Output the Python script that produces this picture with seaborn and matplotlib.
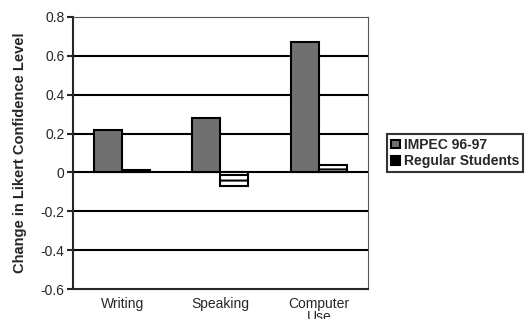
import seaborn as sns
import matplotlib.pyplot as plt
import pandas as pd

# values
skills = ["Writing", "Speaking", "Computer\nUse"]
impec = [0.22, 0.28, 0.67]
regular = [0.01, -0.07, 0.04]
groups = ["IMPEC 96-97", "Regular Students"]
yticks = [0.8, 0.6, 0.4, 0.2, 0, -0.2, -0.4, -0.6]

df = pd.DataFrame({
    "skill": skills * 2,
    "change": impec + regular,
    "group": [groups[0]] * 3 + [groups[1]] * 3,
})

sns.set_style("white")
plt.rcParams["font.family"] = ["Liberation Sans", "DejaVu Sans"]
plt.rcParams["hatch.linewidth"] = 1.5

fig = plt.figure(figsize=(5.27, 3.19), dpi=100)
ax = fig.add_axes([0.1385, 0.094, 0.5597, 0.853])

sns.barplot(data=df, x="skill", y="change", hue="group", ax=ax,
            palette=["#707070", "white"], width=0.57, gap=0,
            edgecolor="black", linewidth=1.5, zorder=3)

# hatch the regular students bars
for bar in ax.containers[1]:
    bar.set_hatch("---")

ax.set_ylim(-0.6, 0.8)
ax.set_xlim(-0.5, 2.5)
ax.set_yticks(yticks)
ax.set_yticklabels(["0.8", "0.6", "0.4", "0.2", "0", "-0.2", "-0.4", "-0.6"])
for y in yticks[1:-1]:
    ax.axhline(y, color="black", lw=1.5, zorder=1)

ax.spines["left"].set_linewidth(1.5)
ax.spines["bottom"].set_linewidth(1.5)
ax.spines["top"].set_linewidth(0.8)
ax.spines["right"].set_linewidth(0.8)
ax.spines["top"].set_color("#555555")
ax.spines["right"].set_color("#555555")
ax.spines["top"].set_linestyle((0, (2, 1)))
ax.spines["right"].set_linestyle((0, (2, 1)))

ax.tick_params(axis="y", left=True, length=4, width=1.5, labelsize=10, pad=2)
ax.tick_params(axis="x", bottom=False, labelsize=10, pad=2)
for lbl in ax.get_xticklabels():
    lbl.set_linespacing(0.95)
ax.set_xlabel("")
ax.set_ylabel("Change in Likert Confidence Level", fontsize=10.5,
              fontweight="bold", labelpad=10)

leg = ax.legend(loc="center left", bbox_to_anchor=(1.065, 0.5), frameon=True,
                prop={"size": 10, "weight": "bold"}, handlelength=0.6,
                handleheight=0.6, handletextpad=0.3, borderpad=0.3,
                labelspacing=0.15, borderaxespad=0, fancybox=False,
                edgecolor="black")
leg.get_frame().set_linewidth(1.5)
for h in leg.legend_handles:
    h.set_hatch(None)
leg.legend_handles[1].set_facecolor("black")

fig.savefig("out.png", dpi=100)
